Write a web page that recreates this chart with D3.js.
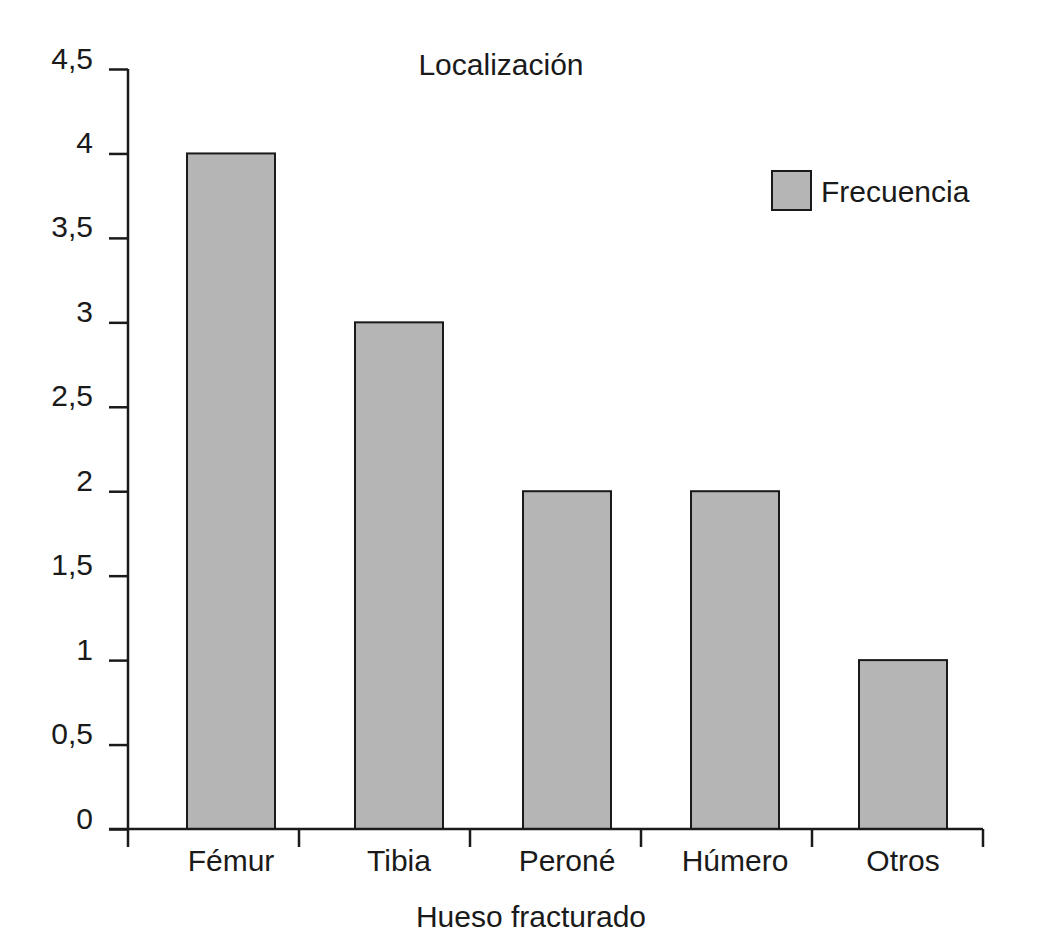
<!DOCTYPE html>
<html>
<head>
<meta charset="utf-8">
<script src="https://cdn.jsdelivr.net/npm/d3@7"></script>
<style>
  html, body { margin: 0; padding: 0; background: #fff; }
  svg { display: block; }
  text { font-family: "Liberation Sans", Arial, Helvetica, sans-serif; fill: #1a1a1a; }
</style>
</head>
<body>
<svg id="chart" width="1041" height="945"></svg>
<script>
const categories = ["Fémur", "Tibia", "Peroné", "Húmero", "Otros"];
const frecuencia = [4, 3, 2, 2, 1];
const yTicks = [0, 0.5, 1, 1.5, 2, 2.5, 3, 3.5, 4, 4.5];
const title = "Localización";
const xTitle = "Hueso fracturado";
const seriesName = "Frecuencia";

const ink = "#1a1a1a";
const barFill = "#b5b5b5";
const svg = d3.select("#chart");

const y = d3.scaleLinear().domain([0, 4.5]).range([829, 69]);
// category bands (tick boundaries)
const xBand = d3.scaleBand().domain(categories).range([128, 983]).padding(0);
// bar placement
const xBar = d3.scaleBand().domain(categories).range([147, 987])
  .paddingInner(80 / 168).paddingOuter(40 / 168);

// bars
svg.append("g").selectAll("rect").data(categories).join("rect")
  .attr("x", d => xBar(d))
  .attr("y", (d, i) => y(frecuencia[i]))
  .attr("width", xBar.bandwidth())
  .attr("height", (d, i) => y(0) - y(frecuencia[i]))
  .attr("fill", barFill)
  .attr("stroke", ink)
  .attr("stroke-width", 2);

// y axis
const yAxis = d3.axisLeft(y).tickValues(yTicks).tickSize(19).tickPadding(16)
  .tickFormat(d => String(d).replace(".", ","));
const gy = svg.append("g").attr("transform", "translate(128,0)").call(yAxis);
gy.select(".domain").remove();
gy.selectAll(".tick line").attr("stroke", ink).attr("stroke-width", 2.5);
gy.selectAll(".tick text").attr("dy", "-1").style("font-size", "30px")
  .style("font-family", "'Liberation Sans', Arial, sans-serif").attr("fill", ink);
svg.append("line").attr("x1", 128).attr("x2", 128).attr("y1", y(4.5)).attr("y2", 847)
  .attr("stroke", ink).attr("stroke-width", 2.5);

// x axis line and boundary ticks
svg.append("line").attr("x1", 109).attr("x2", xBand.range()[1]).attr("y1", y(0)).attr("y2", y(0))
  .attr("stroke", ink).attr("stroke-width", 2.5);
const bounds = categories.map(d => xBand(d)).concat([xBand.range()[1]]);
svg.append("g").selectAll("line").data(bounds.slice(1)).join("line")
  .attr("x1", d => d).attr("x2", d => d).attr("y1", y(0)).attr("y2", 847)
  .attr("stroke", ink).attr("stroke-width", 2.5);

// x labels
const xAxis = d3.axisBottom(xBar).tickSize(0).tickPadding(0);
const gx = svg.append("g").attr("transform", "translate(0,871)").call(xAxis);
gx.select(".domain").remove();
gx.selectAll(".tick text").attr("dy", "0").attr("y", 0).style("font-size", "30px")
  .style("font-family", "'Liberation Sans', Arial, sans-serif").attr("fill", ink);

// titles
svg.append("text").attr("x", 501).attr("y", 75).attr("text-anchor", "middle")
  .style("font-size", "30px").text(title);
svg.append("text").attr("x", 531).attr("y", 927).attr("text-anchor", "middle")
  .style("font-size", "30px").text(xTitle);

// legend
const lg = svg.append("g").attr("transform", "translate(772,171)");
lg.append("rect").attr("width", 39).attr("height", 39).attr("fill", barFill)
  .attr("stroke", ink).attr("stroke-width", 2);
lg.append("text").attr("x", 49).attr("y", 31).style("font-size", "30px").text(seriesName);
</script>
</body>
</html>
